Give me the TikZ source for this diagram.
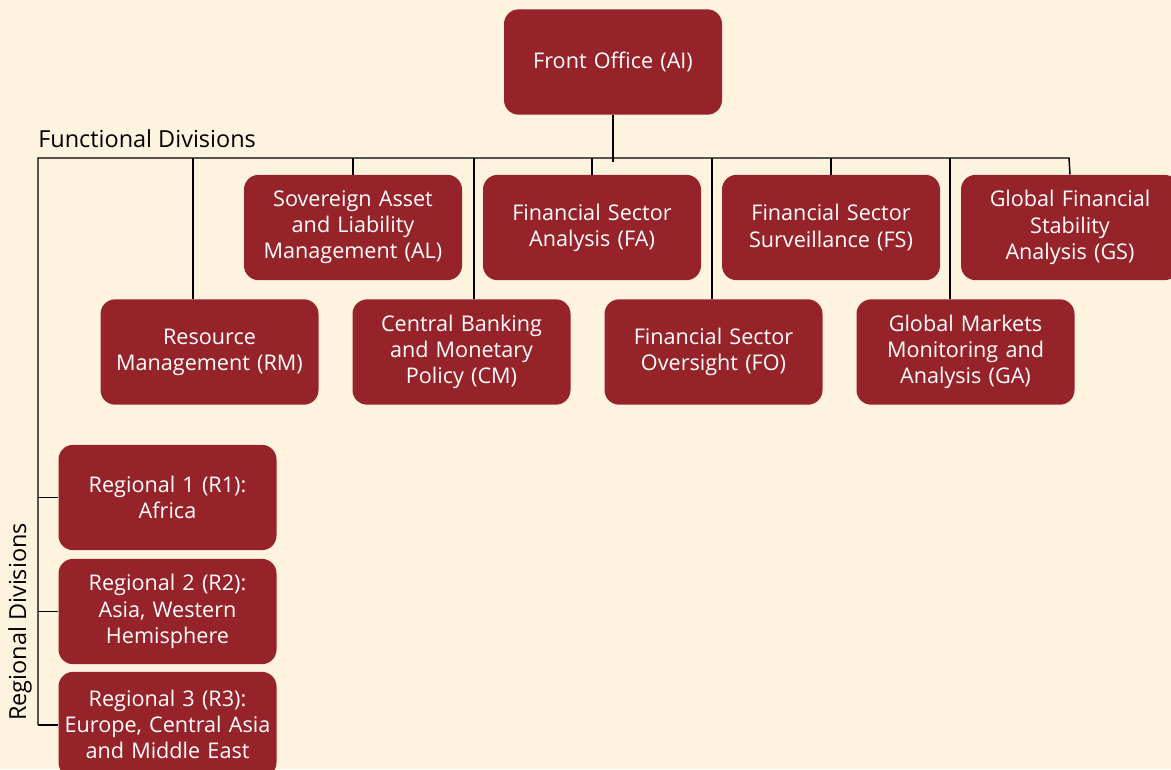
\documentclass[tikz,border=0pt]{standalone}
\usepackage{fontspec}
\setmainfont{Open Sans}
\definecolor{paper}{HTML}{FEF3DF}
\definecolor{imfred}{HTML}{97232A}
\begin{document}
\begin{tikzpicture}[x=0.75pt, y=-0.75pt,
	unit/.style={fill=imfred, text=white, rounded corners=11pt, minimum width=163.5pt,
		minimum height=79pt, text width=161pt, align=center, inner sep=0pt,
		font=\fontsize{16.2}{19.6}\selectfont},
	link/.style={line width=1.1pt, black},
	caption/.style={font=\fontsize{17.6}{20}\selectfont}]
	\useasboundingbox (0, 0) rectangle (1171, 769);
	\fill[paper] (0, 0) rectangle (1171, 769);
	\clip (0, 0) rectangle (1171, 769);
	\node[unit] (ai) at (613, 62) {Front Office (AI)};
	\node[unit] (al) at (353, 227.5) {Sovereign Asset\\and Liability\\Management (AL)};
	\node[unit] (fa) at (592, 227.5) {Financial Sector\\Analysis (FA)};
	\node[unit] (fs) at (831, 227.5) {Financial Sector\\Surveillance (FS)};
	\node[unit] (gs) at (1070, 227.5) {Global Financial\\Stability\\Analysis (GS)};
	\node[unit] (rm) at (209.5, 352) {Resource\\Management (RM)};
	\node[unit] (cm) at (461.5, 352) {Central Banking\\and Monetary\\Policy (CM)};
	\node[unit] (fo) at (713.5, 352) {Financial Sector\\Oversight (FO)};
	\node[unit] (ga) at (965.5, 352) {Global Markets\\Monitoring and\\Analysis (GA)};
	\node[unit] (r1) at (167.5, 497.5) {Regional 1 (R1):\\Africa};
	\node[unit] (r2) at (167.5, 611.5) {Regional 2 (R2):\\Asia, Western\\Hemisphere};
	\node[unit] (r3) at (167.5, 724.5) {Regional 3 (R3):\\Europe, Central Asia\\and Middle East};
	\node[caption, anchor=base west, inner sep=0pt] (fd) at (38, 147) {Functional Divisions};
	\node[caption, rotate=90, inner sep=0pt] (rd) at (20, 622) {Regional Divisions};
	\coordinate (busl) at (38, 158);
	\coordinate (busr) at (1069, 158);
	\coordinate (tail) at (38, 725);
	\coordinate (jrm) at (193, 158);
	\coordinate (jcm) at (474, 158);
	\coordinate (jfo) at (712, 158);
	\coordinate (jga) at (950, 158);
	\draw[link] (ai.south) -- ++(0, 47);
	\draw[link] (tail) -- (busl) -- (busr) -- (gs.north);
	\draw[link] (busl -| al.north) -- (al.north);
	\draw[link] (busl -| fa.north) -- (fa.north);
	\draw[link] (busl -| fs.north) -- (fs.north);
	\draw[link] (jrm) -- (jrm |- rm.north);
	\draw[link] (jcm) -- (jcm |- cm.north);
	\draw[link] (jfo) -- (jfo |- fo.north);
	\draw[link] (jga) -- (jga |- ga.north);
	\draw[link] (busl |- r1.west) -- (r1.west);
	\draw[link] (busl |- r2.west) -- (r2.west);
	\draw[link] (tail) -- (r3.west |- tail);
\end{tikzpicture}
\end{document}
